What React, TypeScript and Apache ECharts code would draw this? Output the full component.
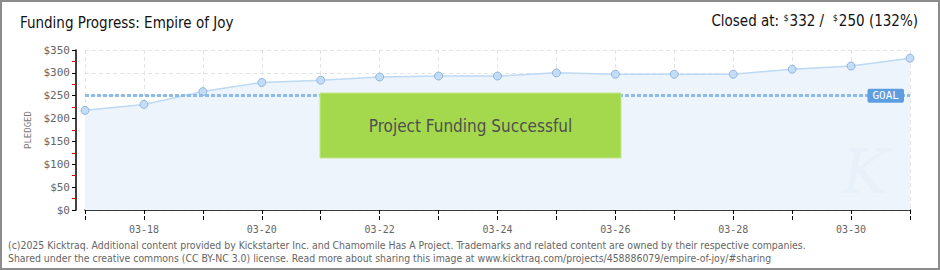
import React, { useEffect, useRef } from "react";
import * as echarts from "echarts";

const dates = ["03-17", "03-18", "03-19", "03-20", "03-21", "03-22", "03-23", "03-24", "03-25", "03-26", "03-27", "03-28", "03-29", "03-30", "03-31"];
const pledged = [218, 231, 259, 279, 284, 291, 293, 293, 300, 297, 297, 297, 308, 315, 332];
const goal = 250;
const closedAt = 332;
const yTicks = [0, 50, 100, 150, 200, 250, 300, 350];

const condensed = "'DejaVu Sans Condensed', 'DejaVu Sans', sans-serif";
const mono = "'DejaVu Sans Mono', monospace";

export default function App() {
  const ref = useRef<HTMLDivElement>(null);

  useEffect(() => {
    if (!ref.current) return;
    const chart = echarts.init(ref.current, undefined, { renderer: "svg" });
    const pct = Math.floor((closedAt / goal) * 100);

    chart.setOption({
      animation: false,
      backgroundColor: "#ffffff",
      grid: { left: 85, right: 30, top: 50, bottom: 60 },
      xAxis: [
        {
          type: "category",
          data: dates,
          boundaryGap: false,
          offset: 10,
          axisLine: { show: true, lineStyle: { color: "#000", width: 1.5 } },
          axisTick: { show: true, length: 4, interval: 0, lineStyle: { color: "#000" } },
          axisLabel: {
            interval: (i: number) => i % 2 === 1,
            color: "#666",
            fontSize: 10,
            fontFamily: mono,
            margin: 4,
          },
          splitLine: { show: true, interval: 0, lineStyle: { color: "#e2e4e8", type: [4, 3] } },
        },
        {
          type: "category",
          data: dates,
          boundaryGap: false,
          position: "bottom",
          offset: 10,
          axisLine: { show: false },
          axisTick: { show: true, inside: true, length: 4, interval: 0, lineStyle: { color: "#000" } },
          axisLabel: { show: false },
          splitLine: { show: false },
        },
      ],
      yAxis: {
        type: "value",
        min: yTicks[0],
        max: yTicks[yTicks.length - 1],
        interval: 50,
        offset: 9,
        name: "PLEDGED",
        nameLocation: "middle",
        nameGap: 43,
        nameTextStyle: { color: "#777", fontSize: 9, fontFamily: mono },
        axisLine: { show: true, lineStyle: { color: "#000", width: 1.5 } },
        axisTick: { show: true, length: 4, lineStyle: { color: "#000" } },
        minorTick: { show: true, splitNumber: 2, length: 4, lineStyle: { color: "#e00000" } },
        axisLabel: {
          color: "#666",
          fontSize: 11,
          fontFamily: mono,
          margin: 6,
          formatter: (v: number) => "$" + v,
        },
        splitLine: { show: true, lineStyle: { color: "#e2e4e8", type: [4, 3] } },
      },
      series: [
        {
          type: "line",
          data: pledged,
          symbol: "circle",
          symbolSize: 8,
          lineStyle: { color: "#bcd9f5", width: 1.5 },
          itemStyle: { color: "#c3ddf8", borderColor: "#93b5da", borderWidth: 1 },
          areaStyle: { color: "#edf4fc", opacity: 1 },
          z: 3,
          markLine: {
            silent: true,
            symbol: "none",
            z: 4,
            lineStyle: { color: "#8dbbea", width: 3, type: [4, 2] },
            label: {
              show: true,
              position: "insideEnd",
              formatter: "GOAL",
              color: "#fff",
              fontSize: 11,
              fontFamily: mono,
              backgroundColor: "#5d9ee0",
              borderRadius: 2,
              padding: [2, 5, 1, 5],
              distance: 6,
            },
            data: [{ yAxis: goal }],
          },
        },
      ],
      graphic: {
        elements: [
          {
            type: "text",
            x: 842,
            y: 140,
            z: 5,
            silent: true,
            style: {
              text: "K",
              fontSize: 62,
              fontStyle: "italic",
              fontFamily: "'DejaVu Serif', serif",
              fill: "rgba(214,226,240,0.22)",
            },
          },
          {
            type: "rect",
            x: 320,
            y: 93,
            z: 10,
            shape: { x: 0, y: 0, width: 301, height: 65 },
            style: { fill: "#a4d94d", stroke: "#c3e78c", lineWidth: 1 },
          },
          {
            type: "text",
            x: 470.5,
            y: 126,
            z: 11,
            style: {
              text: "Project Funding Successful",
              fontSize: 17,
              fontFamily: condensed,
              fill: "#505050",
              align: "center",
              verticalAlign: "middle",
              textShadowColor: "#ffffff",
              textShadowOffsetX: 1,
              textShadowOffsetY: 1,
              textShadowBlur: 0,
            },
          },
          {
            type: "text",
            x: 20,
            y: 15,
            style: {
              text: "Funding Progress: Empire of Joy",
              fontSize: 15,
              fontFamily: condensed,
              fill: "#111",
            },
          },
          {
            type: "text",
            x: 918,
            y: 13,
            style: {
              text: `Closed at: {s|$}${closedAt} /  {s|$}${goal} (${pct}%)`,
              fontSize: 15,
              fontFamily: condensed,
              fill: "#111",
              align: "right",
              rich: {
                s: { fontSize: 9, fontFamily: condensed, fill: "#111", verticalAlign: "top", padding: [0, 1, 7, 0] },
              },
            },
          },
          {
            type: "text",
            x: 8,
            y: 238,
            style: {
              text:
                "(c)2025 Kicktraq. Additional content provided by Kickstarter Inc. and Chamomile Has A Project. Trademarks and related content are owned by their respective companies.\nShared under the creative commons (CC BY-NC 3.0) license. Read more about sharing this image at www.kicktraq.com/projects/458886079/empire-of-joy/#sharing",
              fontSize: 10.4,
              lineHeight: 13.5,
              fontFamily: condensed,
              fill: "#666",
            },
          },
          {
            type: "rect",
            x: 0,
            y: 0,
            z: 20,
            shape: { x: 1, y: 1, width: 938, height: 268 },
            style: { fill: "none", stroke: "#8c8c8c", lineWidth: 2 },
          },
        ],
      },
    });

    return () => chart.dispose();
  }, []);

  return <div ref={ref} style={{ position: "fixed", left: 0, top: 0, width: 940, height: 270 }} />;
}
